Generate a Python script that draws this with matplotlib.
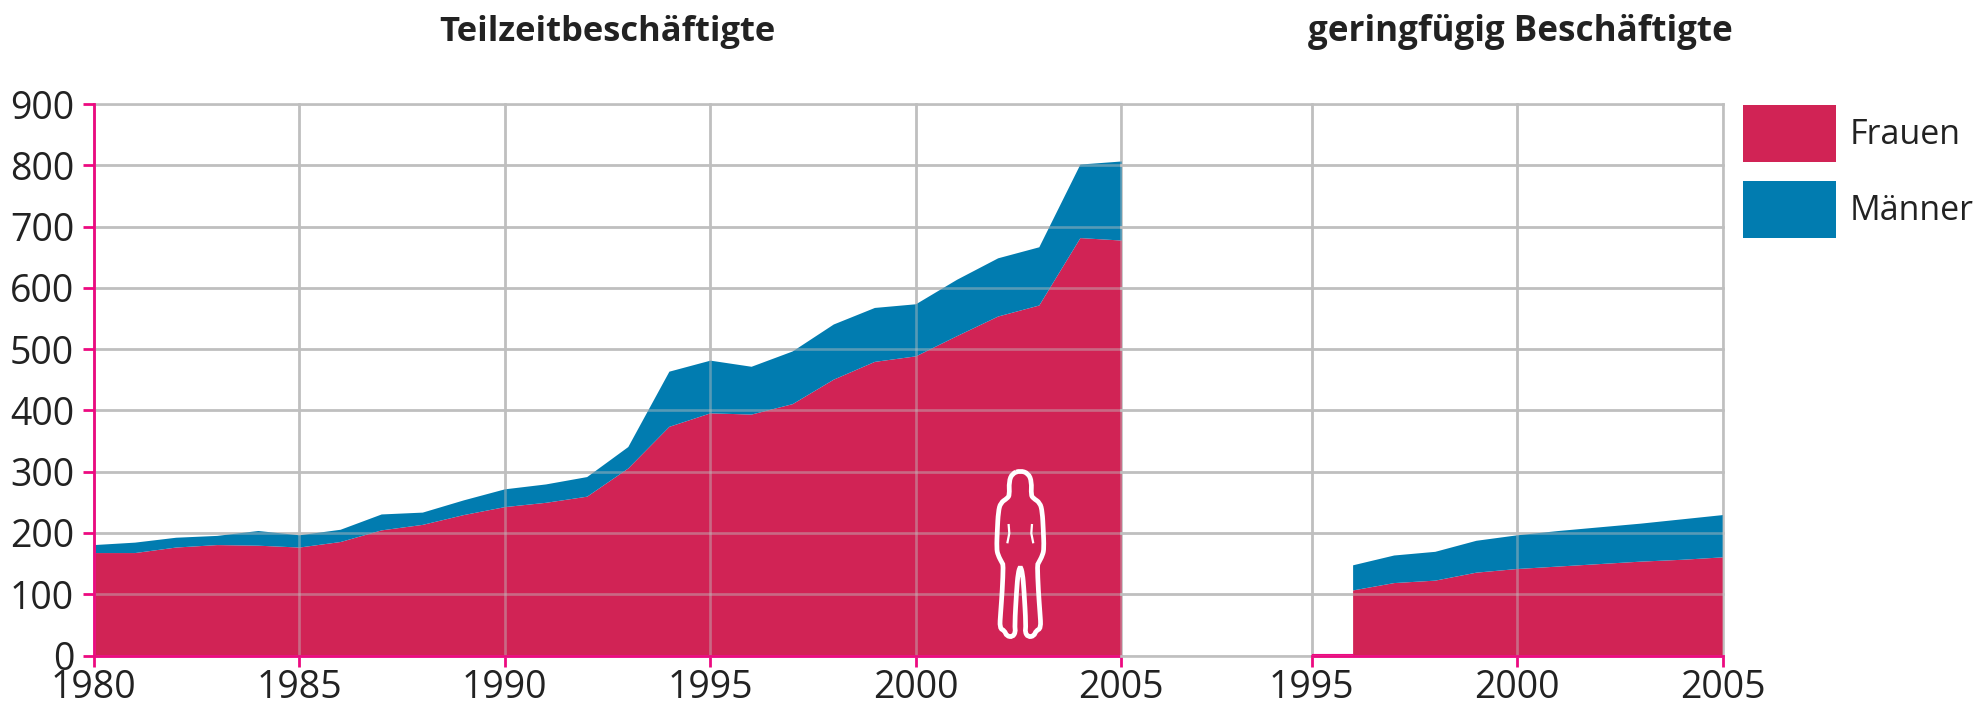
import numpy as np
import matplotlib
matplotlib.use("Agg")
import matplotlib.pyplot as plt
from matplotlib.patches import Patch, PathPatch
from matplotlib.path import Path
from matplotlib.transforms import Affine2D

plt.rcParams['font.family'] = ['Open Sans', 'DejaVu Sans']

# values (Tausend)
years_tz = list(range(1980, 2006))
frauen_tz = [168, 168, 177, 181, 180, 177, 186, 205, 214, 230, 243, 250, 260, 306,
             374, 396, 394, 411, 451, 480, 489, 522, 554, 572, 682, 678]
gesamt_tz = [181, 185, 193, 196, 204, 197, 206, 231, 234, 254, 272, 280, 292, 341,
             464, 482, 472, 497, 541, 568, 574, 614, 649, 667, 802, 807]

years_gf = list(range(1996, 2006))
frauen_gf = [107, 119, 123, 136, 142, 146, 150, 154, 157, 161]
gesamt_gf = [148, 164, 170, 188, 197, 204, 210, 216, 223, 230]

yticks = list(range(0, 901, 100))
xticks_tz = [1980, 1985, 1990, 1995, 2000, 2005]
xticks_gf = [1995, 2000, 2005]

ROT = '#D12355'
BLAU = '#017CB0'
PINK = '#EC0A80'
GRAU = '#BFBFBF'
TEXT = '#222222'

W, H = 1980, 704
fig = plt.figure(figsize=(W / 100, H / 100), dpi=100)


def px_axes(x0, x1, ytop, ybot):
    return fig.add_axes([x0 / W, 1 - ybot / H, (x1 - x0) / W, (ybot - ytop) / H])


ax1 = px_axes(93.5, 1121, 104, 655.5)
ax2 = px_axes(1121, 1722.5, 104, 655.5)
ax1.set_xlim(1980, 2005)
ax2.set_xlim(2005 - (1722.5 - 1121) / 41.1, 2005)

for ax, xs, fr, ges, xt in [(ax1, years_tz, frauen_tz, gesamt_tz, xticks_tz),
                            (ax2, years_gf, frauen_gf, gesamt_gf, xticks_gf)]:
    ax.set_ylim(0, 900)
    ax.fill_between(xs, 0, fr, color=ROT, lw=0, zorder=1)
    ax.fill_between(xs, fr, ges, color=BLAU, lw=0, zorder=1)
    ax.set_xticks(xt)
    ax.set_yticks(yticks)
    ax.set_axisbelow(True)
    ax.grid(True, color=GRAU, lw=1.9)
    for g in ax.get_xgridlines() + ax.get_ygridlines():
        g.set_clip_on(False)
    # the grid shines through the filled areas
    for y in yticks:
        ax.axhline(y, color=GRAU, lw=1.9, alpha=0.45, zorder=2)
    for x in xt:
        ax.axvline(x, color=GRAU, lw=1.9, alpha=0.45, zorder=2)
    for s in ['top', 'right', 'left']:
        ax.spines[s].set_visible(False)
    ax.spines['bottom'].set_color(PINK)
    ax.spines['bottom'].set_linewidth(2)
    ax.spines['bottom'].set_zorder(5)
    ax.tick_params(axis='x', length=8, width=2, color=PINK, labelsize=27,
                   labelcolor=TEXT, pad=2)
    ax.patch.set_visible(False)

ax1.spines['left'].set_visible(True)
ax1.spines['left'].set_color(PINK)
ax1.spines['left'].set_linewidth(2)
ax1.spines['left'].set_zorder(5)
ax1.tick_params(axis='y', length=8, width=2, color=PINK, labelsize=27,
                labelcolor=TEXT, pad=6)
ax2.spines['bottom'].set_bounds(1995, 2005)
ax2.tick_params(axis='y', length=0, labelleft=False)
ax2.plot([1995, 1996], [2, 2], color=PINK, lw=0.8, zorder=3, clip_on=False)

fig.text(607 / W, 1 - 32 / H, 'Teilzeitbeschäftigte', ha='center', va='center',
         fontsize=24.8, fontweight='bold', color=TEXT)
fig.text(1520 / W, 1 - 32 / H, 'geringfügig Beschäftigte', ha='center', va='center',
         fontsize=25.2, fontweight='bold', color=TEXT)

handles = [Patch(color=ROT, lw=0), Patch(color=BLAU, lw=0)]
fig.legend(handles, ['Frauen', 'Männer'], loc='upper left',
           bbox_to_anchor=(1743 / W, 1 - 105 / H), frameon=False, borderpad=0,
           borderaxespad=0, fontsize=24.5, handlelength=2.72, handleheight=2.2,
           handletextpad=0.4, labelspacing=0.56, labelcolor=TEXT)

# pictogram, half outline in reference pixels (mirrored around the middle)
mitte = 1020.3
halb = [(1020.3, 470.7), (1028.3, 473.3), (1031.7, 481.7), (1031, 495), (1033.3, 498.3),
        (1040, 502.7), (1042.3, 511.7), (1043.3, 530), (1044, 548.3), (1042.7, 555),
        (1038.3, 563.3), (1037.3, 565), (1038.3, 590), (1040, 613.3), (1041, 628.3),
        (1036, 630.7), (1034, 636), (1028, 637), (1025, 632), (1026, 626),
        (1024, 590), (1022.5, 573), (1020.3, 566)]
umriss = halb + [(2 * mitte - x, y) for x, y in halb[-2:0:-1]]


def smooth_closed(pts):
    pts = np.array(pts)
    mids = (pts + np.roll(pts, -1, axis=0)) / 2
    verts = [mids[-1]]
    codes = [Path.MOVETO]
    for p, m in zip(pts, mids):
        verts += [p, m]
        codes += [Path.CURVE3, Path.CURVE3]
    return Path(verts, codes)


to_fig = Affine2D().scale(1, -1).translate(0, H)
fig.add_artist(PathPatch(smooth_closed(umriss), fc='none', ec='white', lw=3.4,
                         transform=to_fig, zorder=6))
for sgn in [-1, 1]:
    strich = [(mitte + sgn * 11.7, 524), (mitte + sgn * 11, 533.3), (mitte + sgn * 13, 543.3)]
    fig.add_artist(PathPatch(Path(strich), fc='none', ec='white', lw=1.6,
                             transform=to_fig, zorder=6))

fig.savefig('out.png', dpi=100)
